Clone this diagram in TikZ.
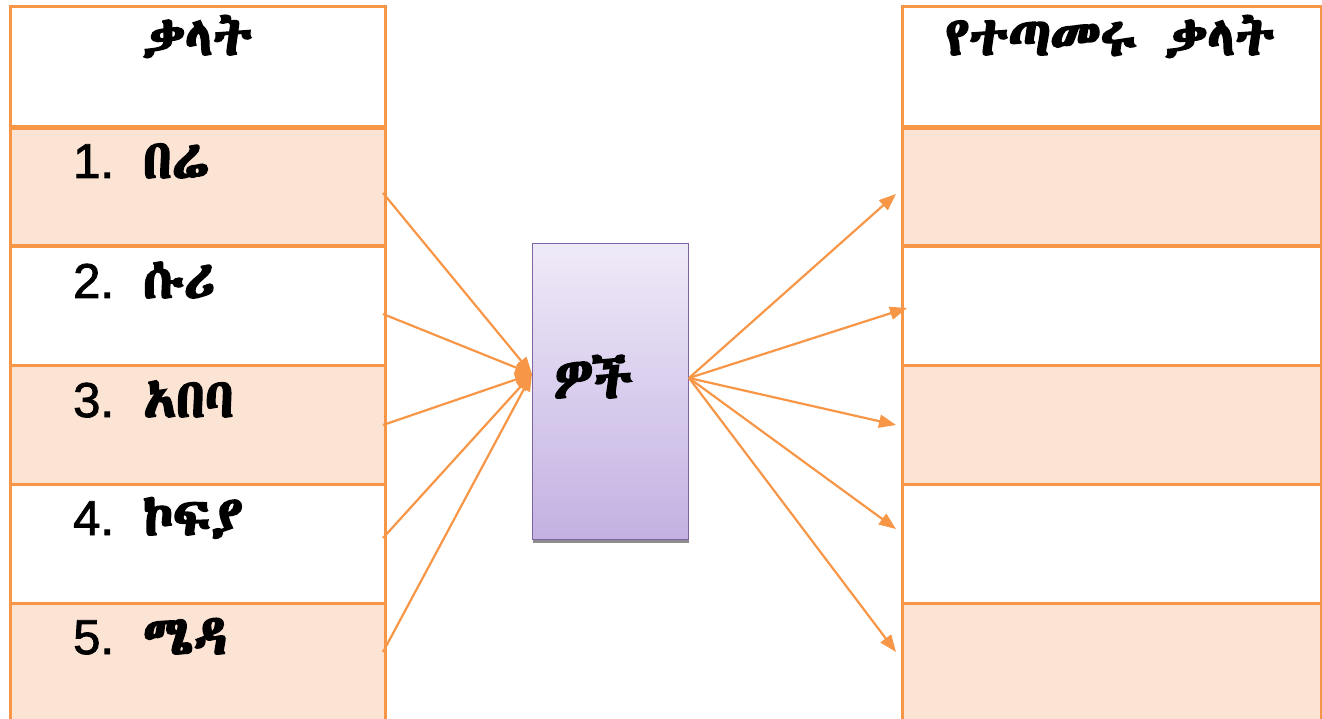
\documentclass[tikz,border=0pt]{standalone}
\usepackage{fontspec}
\setmainfont{Liberation Sans}
\newfontfamily\eth[FakeBold=3.5]{Abyssinica SIL}
\newfontfamily\digs[FakeBold=1.8]{Liberation Sans}
\usetikzlibrary{arrows.meta,shadows}
\definecolor{orp}{HTML}{F79646}
\definecolor{peach}{HTML}{FCE4D5}
\definecolor{boxtop}{HTML}{EFEAF8}
\definecolor{boxbot}{HTML}{C3B1E2}
\definecolor{boxline}{HTML}{8064A2}
\begin{document}
\begin{tikzpicture}[x=1pt,y=-1pt]
\tikzset{
  cellL/.style={draw=orp,line width=2.8pt,anchor=north west,inner sep=0pt,minimum width=375pt,minimum height=119pt},
  cellR/.style={draw=orp,line width=2.8pt,anchor=north west,inner sep=0pt,minimum width=419pt,minimum height=119pt},
  odd/.style={fill=peach},
  even/.style={fill=white},
  num/.style={anchor=base west,font=\fontsize{49}{52}\selectfont\digs,inner sep=0pt},
  word/.style={anchor=base west,font=\fontsize{54}{58}\selectfont\eth,inner sep=0pt},
  head/.style={anchor=base,font=\fontsize{54}{58}\selectfont\eth,inner sep=0pt},
  arr/.style={draw=orp,line width=2.2pt,-{Triangle[length=17pt,width=13pt]}},
}
\useasboundingbox (0,0) rectangle (1322,719);
% left table
\node[cellL,even,minimum height=120pt] (lh) at (9,5) {};
\node[cellL,odd]  (l1) at (9,125) {};
\node[cellL,even] (l2) at (9,245) {};
\node[cellL,odd]  (l3) at (9,364) {};
\node[cellL,even] (l4) at (9,483) {};
\node[cellL,odd,minimum height=130pt]  (l5) at (9,602) {};
% right table
\node[cellR,even,minimum height=120pt] (rh) at (901,5) {};
\node[cellR,odd]  (r1) at (901,125) {};
\node[cellR,even] (r2) at (901,245) {};
\node[cellR,odd]  (r3) at (901,364) {};
\node[cellR,even] (r4) at (901,483) {};
\node[cellR,odd,minimum height=130pt]  (r5) at (901,602) {};
% thick header lines
\draw[orp,line width=5pt] (lh.south west) -- (lh.south east);
\draw[orp,line width=5pt] (rh.south west) -- (rh.south east);
% headers
\node[head] (th1) at (197,55) {ቃላት};
\node[head] (th2) at (1110,55) {የተጣመሩ\hspace{0.5em}ቃላት};
% items
\node[num] (n1) at (73,178) {1.};
\node[word] (w1) at (143,178) {በሬ};
\node[num] (n2) at (73,298) {2.};
\node[word] (w2) at (143,298) {ሱሪ};
\node[num] (n3) at (73,417) {3.};
\node[word] (w3) at (143,417) {አበባ};
\node[num] (n4) at (73,535) {4.};
\node[word] (w4) at (143,535) {ኮፍያ};
\node[num] (n5) at (73,654) {5.};
\node[word] (w5) at (143,654) {ሜዳ};
% center box
\node[draw=boxline,line width=1.2pt,top color=boxtop,bottom color=boxbot,
      anchor=north west,minimum width=156pt,minimum height=296pt,inner sep=0pt,
      drop shadow={shadow xshift=0pt,shadow yshift=-3.5pt,fill=black!45,opacity=1}] (box) at (532,243) {};
\node[anchor=base,font=\fontsize{54}{58}\selectfont\eth,inner sep=0pt] (bt) at (593,398) {ዎች};
% connector points
\coordinate (hubL) at (532,374);
\coordinate (hubR) at (689,378);
\coordinate (s1) at (383,193);
\coordinate (s2) at (383,314);
\coordinate (s3) at (383,425);
\coordinate (s4) at (383,538);
\coordinate (s5) at (383,652);
\coordinate (e1) at (896,194);
\coordinate (e2) at (907,308);
\coordinate (e3) at (896,425);
\coordinate (e4) at (896,529);
\coordinate (e5) at (896,652);
\foreach \i in {1,...,5}{
  \draw[arr] (s\i) -- (hubL);
  \draw[arr] (hubR) -- (e\i);
}
\end{tikzpicture}
\end{document}
